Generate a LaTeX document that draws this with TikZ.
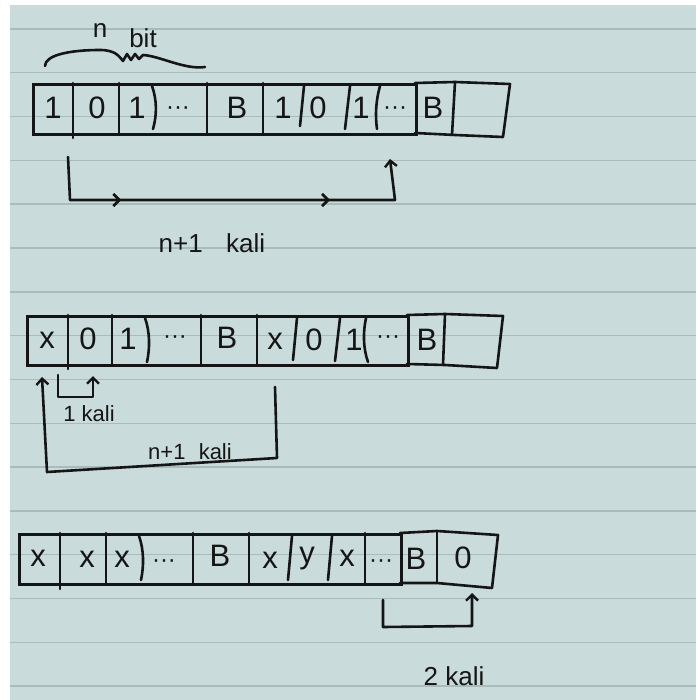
\documentclass[tikz,border=0pt]{standalone}
\usepackage{fontspec}
\setmainfont{Liberation Sans}
\usetikzlibrary{arrows.meta,decorations.markings}
\definecolor{paper}{HTML}{C9DBDB}
\definecolor{rulec}{HTML}{A9BBBB}
\definecolor{ink}{HTML}{151515}
\begin{document}
\begin{tikzpicture}[x=1pt,y=-1pt,
  inkline/.style={draw=ink,line width=2.6pt,line cap=round,line join=round},
  cellt/.style={font=\fontsize{31}{31}\selectfont,text=ink,inner sep=0pt},
  dotst/.style={font=\fontsize{24}{24}\selectfont,text=ink,inner sep=0pt},
  lbl/.style={font=\fontsize{26}{26}\selectfont,text=ink,inner sep=0pt},
  tapebox/.style={draw=ink,line width=2.6pt,inner sep=0pt,anchor=north west},
  conn/.style={inkline,-{Straight Barb[length=6pt,width=12pt,line width=2.4pt]}},
  chev/.style={postaction={decorate},decoration={markings,
     mark=at position #1 with {\arrow[line width=2.4pt]{Straight Barb[length=6pt,width=12pt]}}}},
]
% paper
\useasboundingbox (0,0) rectangle (696,700);
\fill[white] (0,0) rectangle (696,700);
\fill[paper] (10,5) rectangle (696,700);
\foreach \k in {0,...,15}{
  \draw[rulec,line width=1.4pt] (10,{29+43.8*\k}) -- (696,{29+43.8*\k});
}

% ---------- brace and label ----------
\draw[inkline] (45,66) .. controls (45,55) and (70,50) .. (100,50)
  .. controls (115,50) and (119,56) .. (123,61) -- (127,54) -- (131,60) -- (135,54) -- (139,59) -- (143,55)
  .. controls (160,56) and (185,70) .. (205,67);
\node[lbl] (nlab) at (100,31) {n};
\node[lbl] (bitlab) at (143,38) {bit};

% ---------- tape 1 ----------
\node[tapebox,minimum width=383pt,minimum height=50pt] (t1) at (32,83) {};
\draw[inkline] (73,83) -- (73,138);
\draw[inkline] (119,83) -- (119,133);
\draw[inkline] (152,86) .. controls (157,100) and (157,115) .. (153,129);
\draw[inkline] (207,83) -- (207,133);
\draw[inkline] (263,83) -- (263,133);
\draw[inkline] (304,86) -- (300,126);
\draw[inkline] (350,86) -- (345,129);
\draw[inkline] (380,86) .. controls (376,100) and (375,115) .. (377,129);
\draw[inkline] (415,83) -- (455,82) -- (510,84) -- (503,137) -- (455,135) -- (415,133);
\draw[inkline] (455,82) -- (452,135);
\node[cellt] (c11) at (53,108) {1};
\node[cellt] (c12) at (97,108) {0};
\node[cellt] (c13) at (137,108) {1};
\node[dotst] (c14) at (178,111) {···};
\node[cellt] (c15) at (237,108) {B};
\node[cellt] (c16) at (283,108) {1};
\node[cellt] (c17) at (318,108) {0};
\node[cellt] (c18) at (361,108) {1};
\node[dotst] (c19) at (395,111) {···};
\node[cellt] (c110) at (433,108) {B};

\coordinate (a1s) at (68,157);
\coordinate (a1b) at (70,200);
\coordinate (a1c) at (395,200);
\coordinate (a1e) at (390,159);
\draw[conn,chev=0.23,chev=0.74] (a1s) -- (a1b) -- (a1c) -- (a1e);
\node[lbl] (l1) at (212,243) {n+1\hspace{0.9em}kali};

% ---------- tape 2 ----------
\node[tapebox,minimum width=381pt,minimum height=49pt] (t2) at (26,315) {};
\draw[inkline] (68,315) -- (68,369);
\draw[inkline] (112,315) -- (112,364);
\draw[inkline] (145,318) .. controls (150,332) and (150,348) .. (147,362);
\draw[inkline] (201,315) -- (201,364);
\draw[inkline] (257,315) -- (257,364);
\draw[inkline] (297,318) -- (293,360);
\draw[inkline] (340,318) -- (335,361);
\draw[inkline] (366,318) .. controls (363,332) and (363,348) .. (368,362);
\draw[inkline] (407,315) -- (445,314) -- (503,316) -- (497,368) -- (445,365) -- (407,364);
\draw[inkline] (445,314) -- (443,365);
\node[cellt] (c21) at (47,340) {x};
\node[cellt] (c22) at (88,339) {0};
\node[cellt] (c23) at (128,339) {1};
\node[dotst] (c24) at (175,340) {···};
\node[cellt] (c25) at (227,338) {B};
\node[cellt] (c26) at (275,341) {x};
\node[cellt] (c27) at (314,340) {0};
\node[cellt] (c28) at (354,340) {1};
\node[dotst] (c29) at (388,340) {···};
\node[cellt] (c210) at (427,340) {B};

\coordinate (b1s) at (58,375);
\coordinate (b1b) at (58,397);
\coordinate (b1c) at (93,397);
\coordinate (b1e) at (93,376);
\draw[conn] (b1s) -- (b1b) -- (b1c) -- (b1e);
\node[lbl,font=\fontsize{22}{22}\selectfont] (l2) at (89,414) {1 kali};

\coordinate (b2s) at (275,387);
\coordinate (b2b) at (277,458);
\coordinate (b2c) at (47,472);
\coordinate (b2e) at (42,377);
\draw[conn] (b2s) -- (b2b) -- (b2c) -- (b2e);
\node[lbl,font=\fontsize{22}{22}\selectfont] (l3) at (190,452) {n+1\hspace{0.6em}kali};

% ---------- tape 3 ----------
\node[tapebox,minimum width=382pt,minimum height=50pt] (t3) at (18,533) {};
\draw[inkline] (60,533) -- (60,589);
\draw[inkline] (106,533) -- (106,583);
\draw[inkline] (139,536) .. controls (144,550) and (144,566) .. (141,580);
\draw[inkline] (193,533) -- (193,583);
\draw[inkline] (249,533) -- (249,583);
\draw[inkline] (292,536) -- (288,580);
\draw[inkline] (332,536) -- (328,580);
\draw[inkline] (365,533) -- (365,583);
\draw[inkline] (400,533) -- (437,531) -- (498,535) -- (492,588) -- (437,583) -- (400,583);
\draw[inkline] (437,531) -- (437,583);
\node[cellt] (c31) at (38,558) {x};
\node[cellt] (c32) at (87,559) {x};
\node[cellt] (c33) at (122,559) {x};
\node[dotst] (c34) at (164,564) {···};
\node[cellt] (c35) at (220,556) {B};
\node[cellt] (c36) at (270,560) {x};
\node[cellt] (c37) at (307,559) {y};
\node[cellt] (c38) at (347,558) {x};
\node[dotst] (c39) at (381,564) {···};
\node[cellt] (c310) at (416,559) {B};
\node[cellt] (c311) at (463,558) {0};

\coordinate (d1s) at (383,600);
\coordinate (d1b) at (383,627);
\coordinate (d1c) at (472,626);
\coordinate (d1e) at (472,593);
\draw[conn] (d1s) -- (d1b) -- (d1c) -- (d1e);
\node[lbl] (l4) at (454,676) {2 kali};
\end{tikzpicture}
\end{document}
